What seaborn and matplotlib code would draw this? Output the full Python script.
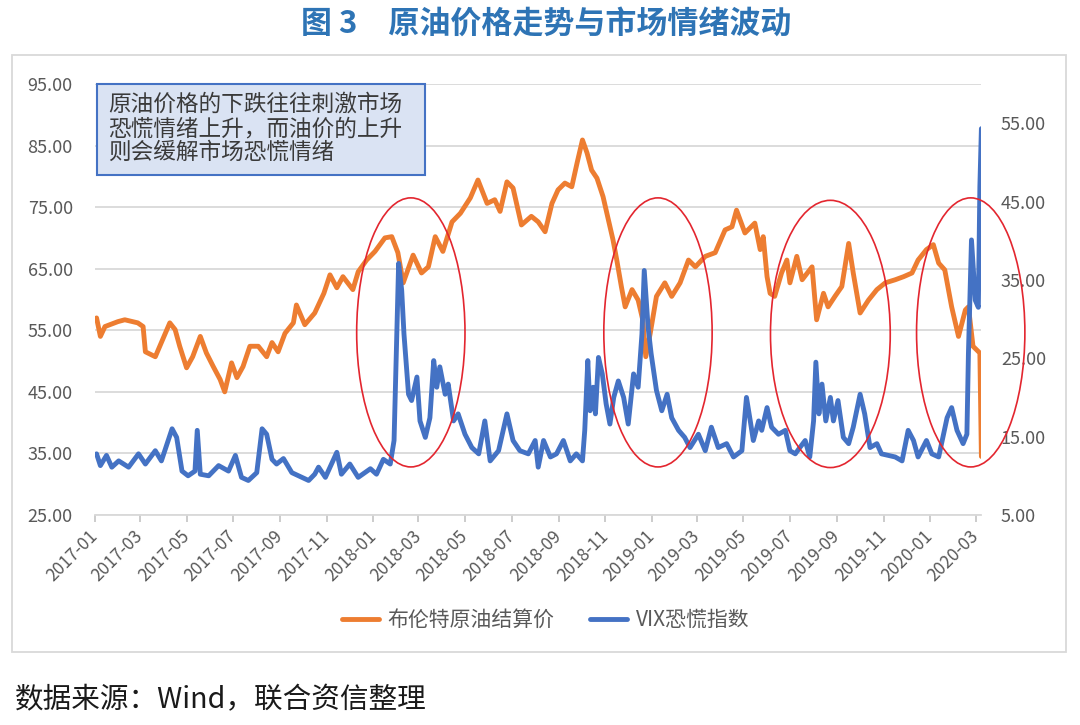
import numpy as np
import pandas as pd
import matplotlib
matplotlib.use("Agg")
import matplotlib.pyplot as plt
import matplotlib.dates as mdates
from matplotlib.patches import Ellipse, Rectangle
from matplotlib.lines import Line2D
from matplotlib.ticker import FormatStrFormatter
import seaborn as sns

# ---------------- data ----------------
BASE = "2017-01-01"   # day offsets below are counted from this date

brent_day = [2, 7, 13, 30, 39, 56, 63, 66, 79, 87, 98, 105, 111, 120, 128, 138, 146, 155, 164, 170,
             179, 186, 194, 203, 214, 225, 232, 240, 249, 260, 264, 275, 288, 300, 308, 317, 325, 338,
             345, 356, 367, 380, 389, 397, 404, 417, 428, 437, 446, 456, 468, 479, 492, 502, 514, 524,
             531, 540, 548, 559, 572, 581, 590, 599, 607, 616, 625, 632, 639, 645, 651, 658, 666, 673,
             679, 684, 690, 695, 704, 712, 718, 722, 728, 736, 747, 756, 767, 778, 787, 800, 813, 826,
             835, 841, 852, 865, 872, 876, 881, 885, 891, 900, 907, 911, 920, 927, 940, 946, 955, 961,
             970, 979, 988, 994, 1003, 1014, 1025, 1036, 1049, 1060, 1071, 1079, 1090, 1099, 1106,
             1114, 1123, 1132, 1141, 1145, 1151, 1160, 1162]
brent_price = [57.0, 54.0, 55.6, 56.4, 56.7, 56.2, 55.6, 51.5, 50.7, 53.0, 56.2, 55.1, 52.4, 48.9, 50.7,
               54.0, 51.3, 49.1, 47.0, 45.0, 49.7, 47.3, 49.1, 52.4, 52.4, 50.7, 53.0, 51.5, 54.5, 56.2,
               59.1, 55.9, 57.8, 61.0, 64.0, 61.9, 63.7, 61.6, 64.5, 66.4, 67.8, 70.0, 70.2, 67.6, 62.7,
               67.2, 64.3, 65.3, 70.2, 67.8, 72.6, 74.0, 76.5, 79.4, 75.6, 76.2, 74.3, 79.1, 78.1, 72.1,
               73.5, 72.6, 71.0, 75.6, 77.8, 78.9, 78.3, 82.2, 85.9, 83.8, 81.0, 79.7, 76.7, 72.9, 69.7,
               66.4, 62.1, 58.8, 61.6, 59.9, 56.7, 50.7, 54.6, 60.5, 62.7, 60.5, 62.7, 66.4, 65.3, 67.0,
               67.6, 71.3, 71.8, 74.5, 70.8, 72.4, 68.1, 70.2, 63.7, 61.0, 60.5, 64.3, 66.4, 62.7, 67.0,
               63.2, 65.3, 56.7, 61.0, 58.8, 60.5, 62.1, 69.1, 64.3, 57.8, 59.9, 61.6, 62.7, 63.2, 63.7,
               64.3, 66.4, 68.1, 68.9, 65.9, 64.8, 58.8, 54.0, 58.3, 58.8, 52.4, 51.3, 34.5]

vix_day = [2, 7, 15, 22, 31, 44, 57, 66, 79, 87, 101, 107, 114, 122, 131, 134, 138, 149, 162, 175,
           184, 192, 201, 212, 219, 225, 232, 238, 247, 258, 271, 280, 288, 293, 302, 317, 323, 334,
           345, 361, 369, 378, 387, 392, 398, 402, 405, 411, 415, 422, 426, 433, 439, 444, 448, 452,
           459, 463, 470, 476, 485, 494, 503, 511, 518, 529, 540, 548, 557, 568, 577, 581, 588, 597,
           605, 614, 623, 631, 639, 642, 646, 649, 653, 656, 660, 665, 670, 675, 680, 686, 693, 699,
           706, 712, 717, 720, 725, 729, 736, 743, 750, 756, 765, 773, 780, 791, 800, 808, 817, 828,
           837, 848, 854, 859, 863, 870, 874, 881, 887, 896, 905, 911, 918, 924, 931, 937, 942, 945,
           949, 953, 958, 964, 968, 974, 981, 988, 994, 1003, 1009, 1016, 1025, 1031, 1040, 1049,
           1058, 1066, 1073, 1079, 1090, 1097, 1106, 1117, 1123, 1130, 1138, 1143, 1145, 1149, 1154,
           1158, 1160, 1162]
vix_value = [12.8, 11.3, 12.6, 11.1, 11.9, 11.1, 12.8, 11.5, 13.2, 11.9, 16.0, 14.9, 10.6, 10.0, 10.6,
             15.8, 10.2, 10.0, 11.3, 10.6, 12.6, 9.8, 9.4, 10.4, 16.0, 15.3, 12.1, 11.5, 12.2, 10.4,
             9.8, 9.4, 10.2, 11.1, 9.8, 13.0, 10.2, 11.5, 9.8, 10.9, 10.2, 12.1, 11.5, 14.5, 37.1, 33.7,
             28.1, 20.4, 19.6, 22.6, 17.0, 14.9, 17.4, 24.7, 21.3, 23.9, 20.4, 21.7, 17.0, 17.9, 15.3,
             13.6, 12.8, 17.0, 11.9, 13.2, 17.9, 14.5, 13.2, 12.8, 14.5, 11.1, 14.5, 12.4, 12.8, 14.5,
             11.9, 12.8, 11.9, 15.8, 24.7, 18.3, 21.3, 17.9, 25.1, 23.0, 19.2, 16.6, 20.0, 22.1, 20.0,
             16.6, 23.0, 21.3, 28.1, 36.2, 29.0, 25.6, 20.9, 18.3, 20.4, 17.4, 15.8, 14.9, 13.6, 15.3,
             13.2, 16.2, 13.6, 14.1, 12.4, 13.2, 20.0, 17.0, 14.5, 17.0, 15.8, 18.7, 16.2, 15.3, 15.8,
             13.2, 12.8, 13.6, 14.5, 12.4, 17.0, 24.5, 17.9, 21.7, 17.0, 20.0, 17.0, 19.6, 14.9, 14.1,
             16.2, 20.4, 17.9, 13.6, 14.1, 12.8, 12.6, 12.4, 11.9, 15.8, 14.5, 12.4, 14.5, 12.8, 12.4,
             17.4, 18.7, 15.8, 14.1, 15.3, 25.6, 40.1, 32.4, 31.5, 46.9, 54.3]

series_names = ["布伦特原油结算价", "VIX恐慌指数"]
left_ticks = [25, 35, 45, 55, 65, 75, 85, 95]
right_ticks = [5, 15, 25, 35, 45, 55]
title_text = "图 3\u3000原油价格走势与市场情绪波动"
note_text = "原油价格的下跌往往刺激市场\n恐慌情绪上升，而油价的上升\n则会缓解市场恐慌情绪"
source_text = "数据来源：Wind，联合资信整理"

# highlight ellipses: (centre day, centre on left scale, width in days, height on left scale)
ellipses = [(414, 54.65, 142, 43.7), (738, 54.65, 142, 43.7),
            (964, 54.4, 157, 43.4), (1148, 54.65, 142, 43.7)]

# ---------------- styling ----------------
ORANGE = "#ED7D31"
BLUE = "#4472C4"
GRID = "#D9D9D9"
TICKC = "#595959"

sns.set_theme(style="white")
plt.rcParams["font.family"] = ["Noto Sans CJK SC", "DejaVu Sans"]
plt.rcParams["axes.unicode_minus"] = False

base = pd.Timestamp(BASE)
brent_dates = base + pd.to_timedelta(brent_day, unit="D")
vix_dates = base + pd.to_timedelta(vix_day, unit="D")
assert len(brent_dates) == len(brent_price)
assert len(vix_dates) == len(vix_value)

fig = plt.figure(figsize=(10.8, 7.25), dpi=100)
ax = fig.add_axes([0.0880, 0.2897, 0.8207, 0.5945])
ax2 = ax.twinx()

sns.lineplot(x=brent_dates, y=brent_price, ax=ax, color=ORANGE, lw=3.5, legend=False)
sns.lineplot(x=vix_dates, y=vix_value, ax=ax2, color=BLUE, lw=3.5, legend=False)

# axes limits / ticks
ax.set_xlim(base, base + pd.Timedelta(days=1162))
ax.set_ylim(25, 95)
ax2.set_ylim(5, 60)
ax.set_yticks(left_ticks)
ax2.set_yticks(right_ticks)
ax.yaxis.set_major_formatter(FormatStrFormatter("%.2f"))
ax2.yaxis.set_major_formatter(FormatStrFormatter("%.2f"))
ax.xaxis.set_major_locator(mdates.MonthLocator(bymonth=[1, 3, 5, 7, 9, 11]))
ax.xaxis.set_major_formatter(mdates.DateFormatter("%Y-%m"))
ax.set_xlabel("")
ax.set_ylabel("")
ax2.set_ylabel("")

ax.grid(axis="y", color=GRID, lw=1.3)
ax.grid(axis="x", visible=False)
ax2.grid(False)
for s in ["left", "right", "top"]:
    ax.spines[s].set_visible(False)
ax.spines["bottom"].set_color(GRID)
ax.spines["bottom"].set_linewidth(1.3)
for s in ax2.spines.values():
    s.set_visible(False)

ax.tick_params(axis="y", length=0, pad=16, labelsize=13, labelcolor=TICKC)
ax2.tick_params(axis="y", length=0, pad=14, labelsize=13, labelcolor=TICKC)
ax.tick_params(axis="x", bottom=True, length=5, width=1.1, color="#BFBFBF", direction="out",
               pad=8, labelsize=12.5, labelcolor=TICKC)
for lbl in ax.get_xticklabels():
    lbl.set_rotation(45)
    lbl.set_ha("right")
    lbl.set_va("center")
    lbl.set_rotation_mode("anchor")

# highlight ellipses
for cday, cval, wd, hv in ellipses:
    e = Ellipse((mdates.date2num(base + pd.Timedelta(days=cday)), cval), width=wd, height=hv,
                transform=ax.transData, fill=False, ec="#E3262F", lw=1.2, clip_on=False, zorder=10)
    ax2.add_artist(e)

# chart frame
fig.add_artist(Rectangle((12 / 1080, 1 - 652 / 725), (1066 - 12) / 1080, (652 - 55) / 725,
                         transform=fig.transFigure, fill=False, ec=GRID, lw=1.3, zorder=0))

# note box
fig.add_artist(Rectangle((96.7 / 1080, 1 - 175 / 725), 328.3 / 1080, 91 / 725,
                         transform=fig.transFigure, fc="#DAE3F3", ec=BLUE, lw=1.5, zorder=5))
fig.text(108 / 1080, 1 - 128.5 / 725, note_text, fontsize=16.3, linespacing=1.05,
         ha="left", va="center", color="#3A3A3A", zorder=6)

# title
fig.text(0.506, 0.968, title_text, ha="center", va="center", fontsize=22.3,
         fontweight="bold", color="#2E74B5")

# legend
handles = [Line2D([], [], color=ORANGE, lw=3.5), Line2D([], [], color=BLUE, lw=3.5)]
fig.legend(handles, series_names, loc="center", bbox_to_anchor=(0.505, 0.145), ncol=2,
           frameon=False, fontsize=15, handlelength=1.8, columnspacing=1.7,
           handletextpad=0.4, labelcolor=TICKC)

# source
fig.text(0.014, 0.034, source_text, ha="left", va="center", fontsize=20.6, color="#1A1A1A")

fig.savefig("out.png", dpi=100)
